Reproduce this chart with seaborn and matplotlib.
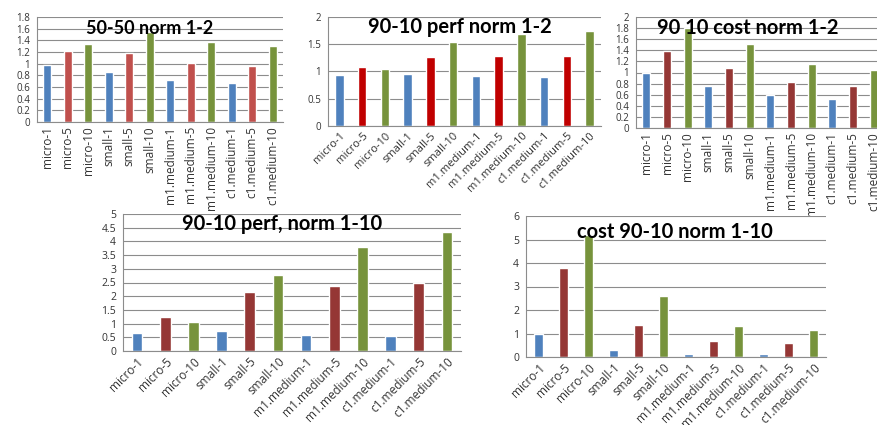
import matplotlib
matplotlib.use('Agg')
import matplotlib.pyplot as plt
import pandas as pd
import seaborn as sns
import numpy as np

# categorias (iguais em todos os paineis)
configs = ['micro-1', 'micro-5', 'micro-10', 'small-1', 'small-5', 'small-10',
           'm1.medium-1', 'm1.medium-5', 'm1.medium-10',
           'c1.medium-1', 'c1.medium-5', 'c1.medium-10']

# valores
vals_5050_norm12 = [0.97, 1.21, 1.33, 0.86, 1.18, 1.54, 0.72, 1.02, 1.38, 0.67, 0.96, 1.31]
vals_9010_perf12 = [0.93, 1.09, 1.05, 0.95, 1.26, 1.55, 0.92, 1.28, 1.69, 0.90, 1.29, 1.74]
vals_9010_cost12 = [0.99, 1.39, 1.80, 0.76, 1.09, 1.52, 0.59, 0.83, 1.15, 0.52, 0.75, 1.05]
vals_9010_perf110 = [0.65, 1.23, 1.06, 0.72, 2.17, 2.79, 0.58, 2.37, 3.78, 0.55, 2.49, 4.36]
vals_9010_cost110 = [0.97, 3.77, 5.20, 0.30, 1.37, 2.61, 0.14, 0.69, 1.34, 0.14, 0.58, 1.13]

titles = ['50-50 norm 1-2', '90-10 perf norm 1-2', '90 10 cost norm 1-2',
          '90-10 perf, norm 1-10', 'cost 90-10 norm 1-10']

blue = '#4F81BD'
green = '#77933C'
reds = ['#C0504D', '#C00000', '#953735', '#953735', '#953735']

sns.set_style('white')
plt.rcParams['font.family'] = ['Open Sans', 'DejaVu Sans']

W, H = 877, 425
fig = plt.figure(figsize=(W / 100, H / 100), dpi=100)

# caixas em pixels: esquerda, direita, topo, base
boxes = [(37, 283, 17, 122), (328, 601, 17, 126), (636, 884, 17, 128),
         (123, 461, 214, 351), (526, 826, 216, 357)]
data = [vals_5050_norm12, vals_9010_perf12, vals_9010_cost12, vals_9010_perf110, vals_9010_cost110]
ylims = [(1.8, 0.2), (2, 0.5), (2, 0.2), (5, 0.5), (6, 1)]
rots = [90, 45, 90, 45, 45]
title_pos = [(150, 28), (460, 27), (748, 28), (282, 224), (675, 232)]
title_fs = [13, 14.5, 14.5, 14.5, 14.5]
fs_y = [7, 7, 7, 7.5, 7.5]
fs_x = [8.5, 8, 8.5, 8.5, 8.5]

for i in range(5):
    l, r, t, b = boxes[i]
    ax = fig.add_axes([l / W, 1 - b / H, (r - l) / W, (b - t) / H])
    df = pd.DataFrame({'config': configs, 'value': data[i]})
    pal = [blue, reds[i], green] * 4
    sns.barplot(data=df, x='config', y='value', hue='config', palette=pal,
                legend=False, width=0.38, ax=ax, saturation=1)
    top, step = ylims[i]
    ax.set_ylim(0, top)
    ax.set_xlim(-0.5, 11.5)
    ticks = np.round(np.arange(0, top + step / 2, step), 2)
    ax.set_yticks(ticks)
    ax.set_yticklabels(['%g' % v for v in ticks], fontsize=fs_y[i], color='#333333')
    ax.yaxis.grid(True, color='#8c8c8c', linewidth=0.8)
    ax.set_axisbelow(True)
    for s in ['top', 'right']:
        ax.spines[s].set_visible(False)
    for s in ['left', 'bottom']:
        ax.spines[s].set_color('#8c8c8c')
        ax.spines[s].set_linewidth(0.8)
    ax.set_xlabel('')
    ax.set_ylabel('')
    # marcas do eixo x entre as categorias (estilo Excel)
    ax.set_xticks(np.arange(-0.5, 12, 1), minor=True)
    ax.tick_params(axis='x', which='minor', length=4, color='#8c8c8c', direction='out')
    ax.tick_params(axis='x', which='major', length=0, pad=3)
    ax.tick_params(axis='y', length=3, color='#8c8c8c', pad=2)
    ax.set_xticks(range(12))
    if rots[i] == 90:
        ax.set_xticklabels(configs, rotation=90, fontsize=fs_x[i], color='#333333')
    else:
        ax.set_xticklabels(configs, rotation=45, ha='right', rotation_mode='anchor',
                           fontsize=fs_x[i], color='#333333')
    tx, ty = title_pos[i]
    fig.text(tx / W, 1 - ty / H, titles[i], fontsize=title_fs[i], fontweight='bold',
             family=['Lato', 'DejaVu Sans'], ha='center', va='center', color='black')

fig.savefig('out.png', dpi=100)
